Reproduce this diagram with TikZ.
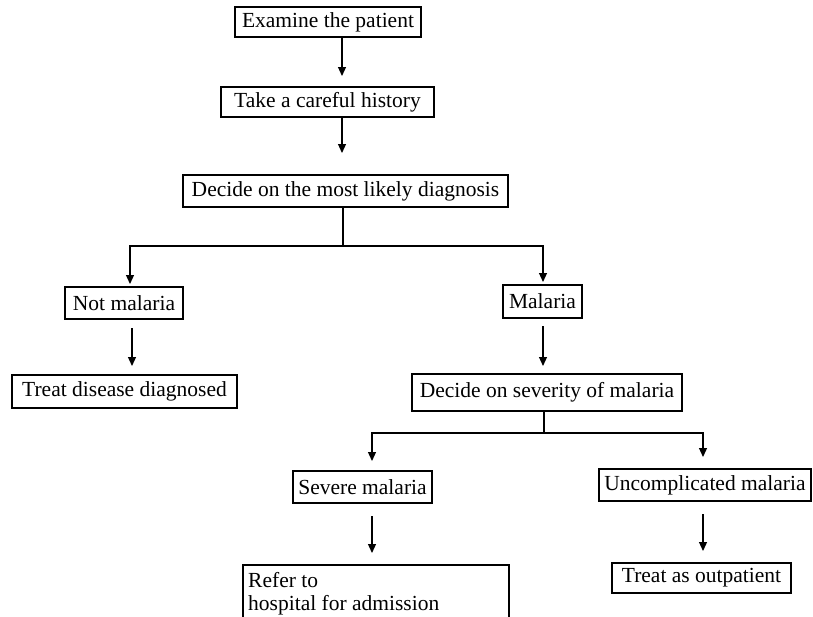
\documentclass[tikz,border=0pt]{standalone}
\usepackage{fontspec}
\setmainfont{Liberation Serif}
\usetikzlibrary{arrows.meta}
\begin{document}
\begin{tikzpicture}[x=1pt,y=-1pt,
  txt/.style={font=\fontsize{21.5}{23}\selectfont},
  box/.style={draw, line width=2pt, inner sep=0pt, txt},
  arr/.style={line width=1.2pt, -{Triangle[length=9pt,width=8pt]}},
  ln/.style={line width=1.2pt}]
\useasboundingbox (0,0) rectangle (813,616);
\clip (0,0) rectangle (813,616);
% nodes
\node[box, minimum width=186pt, minimum height=30pt] (exam) at (328,22) {Examine the patient};
\node[box, minimum width=213pt, minimum height=30pt] (hist) at (327.5,102) {Take a careful history};
\node[box, minimum width=325pt, minimum height=32pt] (diag) at (345.5,191) {Decide on the most likely diagnosis};
\node[box, minimum width=118pt, minimum height=32pt] (notm) at (124,303) {Not malaria};
\node[box, minimum width=225pt, minimum height=33pt] (treatd) at (124.5,391.5) {Treat disease diagnosed};
\node[box, minimum width=79pt, minimum height=33pt] (mal) at (542.5,301.5) {Malaria};
\node[box, minimum width=270pt, minimum height=37pt] (sev) at (547,392.5) {Decide on severity of malaria};
\node[box, minimum width=139pt, minimum height=32pt] (sevm) at (362.5,487) {Severe malaria};
\node[box, minimum width=212pt, minimum height=32pt] (unc) at (705,485) {Uncomplicated malaria};
\node[box, minimum width=179pt, minimum height=30pt] (outp) at (701.5,578) {Treat as outpatient};
\node[box, minimum width=266pt, minimum height=60pt, anchor=north west] (refer) at (242,564) {};
\node[txt, anchor=base west, inner sep=0pt] (refer1) at (248,587) {Refer to};
\node[txt, anchor=base west, inner sep=0pt] (refer2) at (248,610) {hospital for admission};
% split coordinates
\coordinate (s1) at (343,246);
\coordinate (s2) at (544,433);
% connectors
\draw[arr] (exam.south -| 342,0) -- ([yshift=10pt]hist.north -| 342,0);
\draw[arr] (hist.south -| 342,0) -- ([yshift=21pt]diag.north -| 342,0);
\draw[ln] (diag.south -| s1) -- (s1);
\draw[arr] (s1) -| ([yshift=2pt]notm.north -| 130,0);
\draw[arr] (s1) -| ([yshift=2pt]mal.north -| 543,0);
\draw[arr] ([yshift=-8pt]notm.south -| 132,0) -- ([yshift=8pt]treatd.north -| 132,0);
\draw[arr] ([yshift=-7pt]mal.south -| 543,0) -- ([yshift=7pt]sev.north -| 543,0);
\draw[ln] (sev.south -| s2) -- (s2);
\draw[arr] (s2) -| ([yshift=9pt]sevm.north -| 372,0);
\draw[arr] (s2) -| ([yshift=11pt]unc.north -| 703,0);
\draw[arr] ([yshift=-12pt]sevm.south -| 372,0) -- ([yshift=11pt]refer.north -| 372,0);
\draw[arr] ([yshift=-12pt]unc.south -| 703,0) -- ([yshift=11pt]outp.north -| 703,0);
\end{tikzpicture}
\end{document}
